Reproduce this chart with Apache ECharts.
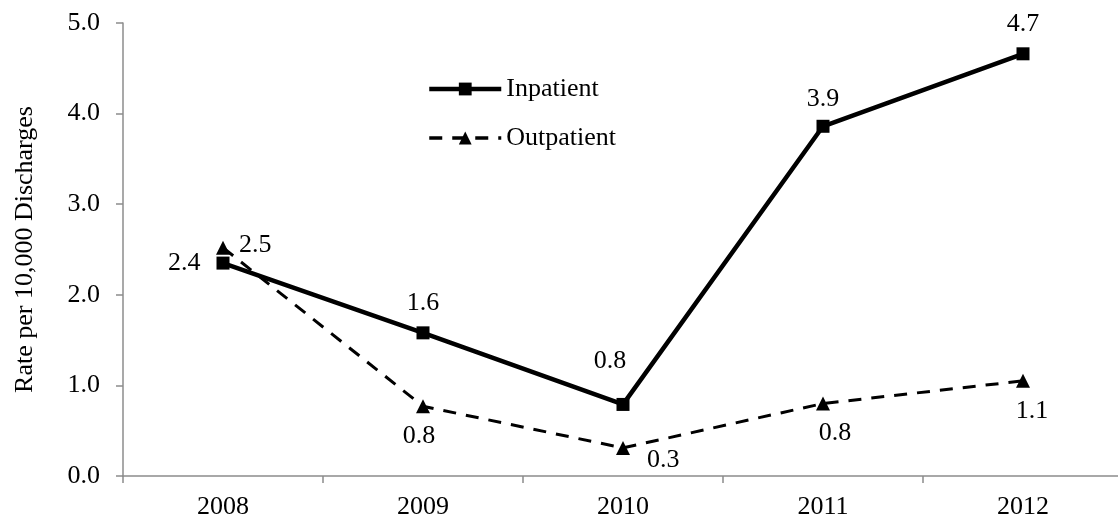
<!DOCTYPE html>
<html>
<head>
<meta charset="utf-8">
<script src="https://cdn.jsdelivr.net/npm/echarts@6/dist/echarts.min.js"></script>
<style>html,body{margin:0;padding:0;background:#fff;}#c{width:1118px;height:518px;}</style>
</head>
<body>
<div id="c"></div>
<script>
const categories = ['2008', '2009', '2010', '2011', '2012'];
const inpatient = [2.35, 1.58, 0.79, 3.86, 4.66];
const outpatient = [2.52, 0.77, 0.31, 0.80, 1.05];
const inpatientLabels = ['2.4', '1.6', '0.8', '3.9', '4.7'];
const outpatientLabels = ['2.5', '0.8', '0.3', '0.8', '1.1'];
const yTicks = [0, 1, 2, 3, 4, 5];

const font = 'Liberation Serif';
const inPos = ['left', 'top', 'top', 'top', 'top'];
const inDist = [16, 10, 24, 8, 10];
const inOffset = [[0, 0], [0, 0], [-13, 0], [0, 0], [0, 0]];
const outPos = ['right', 'bottom', 'right', 'bottom', 'bottom'];
const outDist = [9, 10, 17, 10, 10];
const outOffset = [[0, -3], [-4, 0], [0, 12], [12, 0], [9, 0]];

const chart = echarts.init(document.getElementById('c'));
chart.setOption({
  animation: false,
  grid: { left: 123, top: 23, width: 1000, bottom: 42, containLabel: false, outerBoundsMode: 'none' },
  legend: {
    orient: 'vertical', left: 422, top: 71, itemGap: 23,
    itemWidth: 72, itemHeight: 16,
    textStyle: { fontFamily: font, fontSize: 26, color: '#000' },
    data: [
      { name: 'Inpatient', lineStyle: { width: 4.5 } },
      { name: 'Outpatient', lineStyle: { width: 3.5 } }
    ]
  },
  xAxis: {
    type: 'category', data: categories, boundaryGap: true,
    axisLine: { lineStyle: { color: '#8c8c8c', width: 1.5 } },
    axisTick: { show: true, length: 7, lineStyle: { color: '#8c8c8c', width: 1.5 } },
    axisLabel: { fontFamily: font, fontSize: 26, color: '#000', margin: 18 }
  },
  yAxis: {
    type: 'value', min: 0, max: 5, interval: 1,
    name: 'Rate per 10,000 Discharges', nameLocation: 'middle', nameGap: 85,
    nameTextStyle: { fontFamily: font, fontSize: 26, color: '#000' },
    axisLine: { show: true, lineStyle: { color: '#8c8c8c', width: 1.5 } },
    axisTick: { show: true, length: 7, lineStyle: { color: '#8c8c8c', width: 1.5 } },
    splitLine: { show: false },
    axisLabel: { fontFamily: font, fontSize: 26, color: '#000', margin: 23,
      formatter: v => yTicks.includes(v) ? v.toFixed(1) : '' }
  },
  series: [
    {
      name: 'Inpatient', type: 'line',
      data: inpatient.map((v, i) => ({
        value: v,
        label: { show: true, position: inPos[i], distance: inDist[i],
          offset: inOffset[i], formatter: inpatientLabels[i] }
      })),
      symbol: 'rect', symbolSize: 13,
      itemStyle: { color: '#000' },
      lineStyle: { color: '#000', width: 4.5 },
      label: { fontFamily: font, fontSize: 26, color: '#000' },
      z: 3
    },
    {
      name: 'Outpatient', type: 'line',
      data: outpatient.map((v, i) => ({
        value: v,
        label: { show: true, position: outPos[i], distance: outDist[i],
          offset: outOffset[i], formatter: outpatientLabels[i] }
      })),
      symbol: 'triangle', symbolSize: 14,
      itemStyle: { color: '#000' },
      lineStyle: { color: '#000', width: 3, type: [13, 10] },
      label: { fontFamily: font, fontSize: 26, color: '#000' },
      z: 2
    }
  ]
});
</script>
</body>
</html>
